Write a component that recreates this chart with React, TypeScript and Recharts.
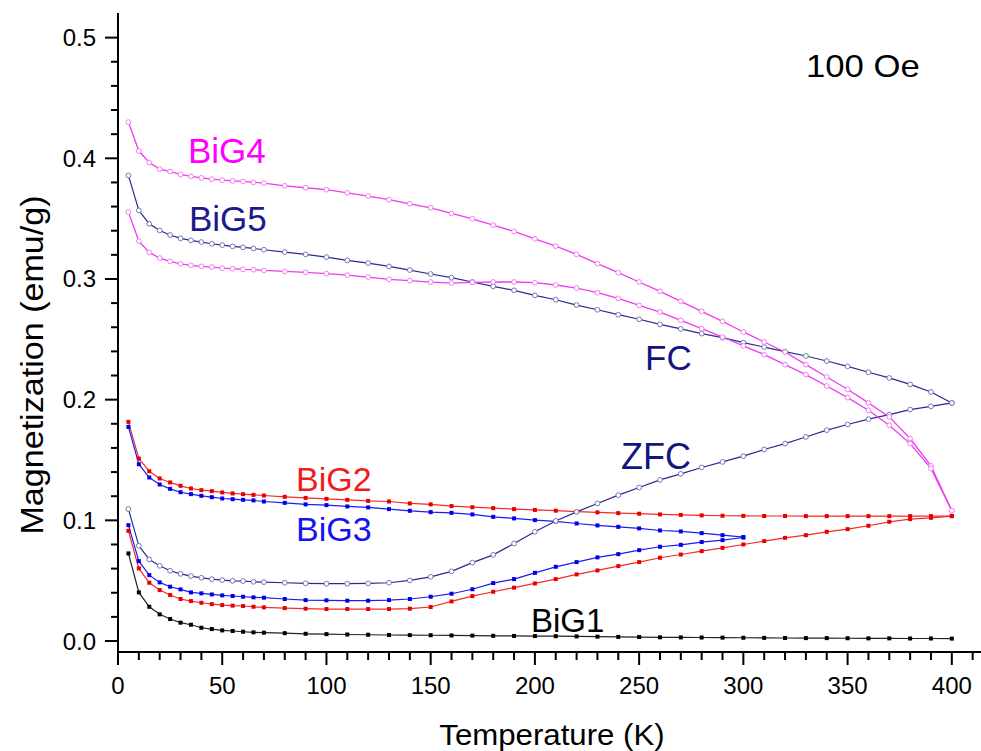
import React from "react";
import { LineChart, Line, XAxis, YAxis, Customized } from "recharts";

// temperature grids (K)
const T_400 = [5, 10, 15, 20, 25, 30, 35, 40, 45, 50, 55, 60, 65, 70, 80, 90, 100, 110, 120, 130, 140, 150, 160, 170, 180, 190, 200, 210, 220, 230, 240, 250, 260, 270, 280, 290, 300, 310, 320, 330, 340, 350, 360, 370, 380, 390, 400];
const T_300 = [5, 10, 15, 20, 25, 30, 35, 40, 45, 50, 55, 60, 65, 70, 80, 90, 100, 110, 120, 130, 140, 150, 160, 170, 180, 190, 200, 210, 220, 230, 240, 250, 260, 270, 280, 290, 300];

// magnetization (emu/g)
const BIG1 = [0.0726, 0.0403, 0.0284, 0.0221, 0.0182, 0.0152, 0.0135, 0.011, 0.0099, 0.0088, 0.0083, 0.0077, 0.0072, 0.0069, 0.0065, 0.006, 0.0057, 0.0054, 0.0052, 0.005, 0.0049, 0.0048, 0.0046, 0.0045, 0.0043, 0.0042, 0.0041, 0.004, 0.0038, 0.0036, 0.0034, 0.0033, 0.0031, 0.003, 0.0029, 0.0028, 0.0027, 0.0026, 0.0025, 0.0024, 0.0024, 0.0023, 0.0022, 0.0022, 0.0021, 0.0021, 0.002];
const BIG2_FC = [0.1816, 0.1512, 0.1407, 0.1347, 0.1314, 0.1286, 0.1264, 0.125, 0.1242, 0.1231, 0.1223, 0.1217, 0.1211, 0.1206, 0.1195, 0.1186, 0.1178, 0.117, 0.1161, 0.1156, 0.114, 0.1132, 0.1118, 0.1109, 0.1101, 0.1093, 0.1086, 0.108, 0.1072, 0.1066, 0.106, 0.1055, 0.1049, 0.1045, 0.1041, 0.1038, 0.1037, 0.1036, 0.1036, 0.1035, 0.1035, 0.1035, 0.1035, 0.1035, 0.1035, 0.1035, 0.1035];
const BIG2_ZFC = [0.0913, 0.0602, 0.0483, 0.0422, 0.0381, 0.0348, 0.0331, 0.0317, 0.0306, 0.0298, 0.0293, 0.029, 0.0284, 0.0279, 0.0273, 0.0268, 0.0265, 0.0265, 0.0265, 0.0265, 0.0268, 0.0282, 0.0328, 0.0372, 0.0408, 0.0442, 0.0477, 0.0513, 0.0552, 0.0585, 0.0621, 0.0654, 0.069, 0.0717, 0.0745, 0.0772, 0.08, 0.0828, 0.0855, 0.0877, 0.0905, 0.0927, 0.0955, 0.0988, 0.101, 0.1021, 0.1035];
const BIG3_FC = [0.1774, 0.1465, 0.1355, 0.1297, 0.1261, 0.1233, 0.1217, 0.1203, 0.1192, 0.1181, 0.1175, 0.117, 0.1165, 0.1156, 0.1145, 0.1132, 0.1126, 0.1115, 0.1107, 0.1093, 0.1079, 0.1068, 0.1062, 0.1049, 0.1029, 0.1016, 0.1002, 0.0991, 0.0974, 0.0958, 0.0946, 0.0933, 0.0916, 0.0908, 0.0894, 0.0877, 0.0861];
const BIG3_ZFC = [0.096, 0.0662, 0.0546, 0.0486, 0.045, 0.0428, 0.0403, 0.0395, 0.0386, 0.0378, 0.0373, 0.0367, 0.0362, 0.0359, 0.0348, 0.0339, 0.0337, 0.0334, 0.0334, 0.0339, 0.0348, 0.0367, 0.0392, 0.0429, 0.048, 0.0513, 0.0565, 0.0615, 0.0654, 0.0693, 0.072, 0.0753, 0.0781, 0.0797, 0.082, 0.0836, 0.0858];
const BIG4_FC = [0.43, 0.406, 0.3965, 0.391, 0.389, 0.3866, 0.385, 0.3838, 0.3827, 0.3819, 0.3813, 0.3808, 0.38, 0.3794, 0.3772, 0.3756, 0.374, 0.3714, 0.3687, 0.3657, 0.3623, 0.359, 0.3543, 0.3499, 0.3446, 0.3394, 0.3333, 0.3272, 0.3204, 0.3127, 0.3052, 0.2975, 0.2897, 0.2815, 0.2732, 0.2649, 0.2561, 0.2478, 0.2395, 0.229, 0.2188, 0.2086, 0.1973, 0.1857, 0.1678, 0.1451, 0.108];
const BIG4_ZFC = [0.3554, 0.3314, 0.322, 0.3173, 0.3146, 0.3126, 0.3113, 0.3104, 0.3099, 0.309, 0.3085, 0.308, 0.3077, 0.3071, 0.3063, 0.3055, 0.3044, 0.3032, 0.3016, 0.2997, 0.2986, 0.2974, 0.2966, 0.2972, 0.2975, 0.2975, 0.2969, 0.295, 0.2925, 0.2886, 0.2839, 0.2781, 0.2726, 0.2657, 0.2588, 0.2519, 0.2445, 0.2373, 0.229, 0.2208, 0.2113, 0.2017, 0.1912, 0.1788, 0.1636, 0.143, 0.108];
const BIG5_FC = [0.3858, 0.3568, 0.3457, 0.3402, 0.3364, 0.3336, 0.332, 0.3306, 0.3292, 0.3281, 0.327, 0.3262, 0.3253, 0.3242, 0.3223, 0.3204, 0.3181, 0.3154, 0.3132, 0.3104, 0.3074, 0.3041, 0.3011, 0.2975, 0.2939, 0.2906, 0.2864, 0.2828, 0.2784, 0.2745, 0.2704, 0.2666, 0.2624, 0.2586, 0.2547, 0.2514, 0.2473, 0.2436, 0.2398, 0.2362, 0.232, 0.2276, 0.2227, 0.218, 0.2127, 0.2064, 0.1973];
const BIG5_ZFC = [0.1093, 0.0789, 0.0676, 0.0623, 0.0582, 0.0557, 0.0538, 0.0524, 0.0513, 0.0505, 0.0499, 0.0497, 0.0491, 0.0488, 0.0483, 0.0478, 0.0475, 0.0475, 0.0478, 0.0483, 0.0502, 0.0532, 0.0577, 0.065, 0.0714, 0.0808, 0.0905, 0.0995, 0.107, 0.114, 0.1209, 0.1272, 0.1335, 0.1385, 0.1438, 0.1484, 0.1532, 0.1587, 0.1636, 0.1691, 0.1747, 0.1794, 0.1838, 0.1876, 0.1918, 0.1945, 0.1973];

// axis ticks
const X_TICKS = [0, 10, 20, 30, 40, 50, 60, 70, 80, 90, 100, 110, 120, 130, 140, 150, 160, 170, 180, 190, 200, 210, 220, 230, 240, 250, 260, 270, 280, 290, 300, 310, 320, 330, 340, 350, 360, 370, 380, 390, 400, 410];
const X_LABELED = [0, 50, 100, 150, 200, 250, 300, 350, 400];
const Y_TICKS = [0, 0.02, 0.04, 0.06, 0.08, 0.1, 0.12, 0.14, 0.16, 0.18, 0.2, 0.22, 0.24, 0.26, 0.28, 0.3, 0.32, 0.34, 0.36, 0.38, 0.4, 0.42, 0.44, 0.46, 0.48, 0.5];
const Y_LABELED = ["0.0", "0.1", "0.2", "0.3", "0.4", "0.5"];

const FONT = "'Liberation Sans', Arial, sans-serif";
const MAGENTA = "#ee3cee";
const NAVY = "#2a2a8e";
const RED = "#f52a2a";
const BLUE = "#1c1cf5";

const pts = (ts: number[], vs: number[]) => vs.map((v, i) => ({ T: ts[i], M: v }));

const circleDot = (color: string) => (p: any) => (
  <circle key={`c${p.index}`} cx={p.cx} cy={p.cy} r={2.4} fill="#fff" stroke={color} strokeWidth={0.9} />
);
const squareDot = (color: string) => (p: any) => (
  <rect key={`s${p.index}`} x={p.cx - 2} y={p.cy - 2} width={4} height={4} fill={color} />
);

function Txt({ x, y, size, sx = 1, anchor = "start", color = "#000", rot = 0, children }: any) {
  return (
    <text
      transform={`translate(${x},${y})${rot ? ` rotate(${rot})` : ""} scale(${sx},1)`}
      textAnchor={anchor}
      fontSize={size}
      fill={color}
      fontFamily={FONT}
    >
      {children}
    </text>
  );
}

function XTick({ x, y, payload }: any) {
  const v = payload.value;
  const major = X_LABELED.includes(v);
  return (
    <g>
      <line x1={x} x2={x} y1={y} y2={y + (major ? 13 : 8)} stroke="#000" strokeWidth={2} />
      {major && <Txt x={x} y={y + 42} size={24} sx={1.0} anchor="middle">{String(v)}</Txt>}
    </g>
  );
}

function YTick({ x, y, payload }: any) {
  const label = payload.value.toFixed(1);
  const major = Math.abs(payload.value * 10 - Math.round(payload.value * 10)) < 1e-6 && Y_LABELED.includes(label);
  return (
    <g>
      <line x1={x} x2={x - (major ? 13 : 7)} y1={y} y2={y} stroke="#000" strokeWidth={2} />
      {major && <Txt x={x - 22} y={y + 8.5} size={24} sx={1.0} anchor="end">{label}</Txt>}
    </g>
  );
}

function Annotations() {
  return (
    <g>
      <Txt x={188} y={163} size={35} color="#ff00ff">BiG4</Txt>
      <Txt x={189} y={231} size={35} color="#1a1a88">BiG5</Txt>
      <Txt x={296} y={491} size={34} color="#f21a1a">BiG2</Txt>
      <Txt x={296} y={541} size={34} color="#1414f0">BiG3</Txt>
      <Txt x={531} y={632} size={33} color="#000">BiG1</Txt>
      <Txt x={645} y={370} size={35} color="#14147e">FC</Txt>
      <Txt x={621} y={469} size={36} color="#14147e">ZFC</Txt>
      <Txt x={806} y={77} size={31} sx={1.12}>100 Oe</Txt>
      <Txt x={552} y={745} size={30} sx={1.04} anchor="middle">Temperature (K)</Txt>
      <Txt x={43} y={365} size={31} sx={1.1} anchor="middle" rot={-90}>Magnetization (emu/g)</Txt>
    </g>
  );
}

export default function App() {
  const axisLine = { stroke: "#000", strokeWidth: 2 };
  return (
    <div style={{ position: "absolute", left: 0, top: 0, background: "#fff" }}>
      <LineChart width={981} height={751} margin={{ top: 13, right: 0, bottom: 0, left: 0 }}>
        <XAxis
          type="number"
          dataKey="T"
          domain={[0, 414]}
          ticks={X_TICKS}
          interval={0}
          height={99}
          tickSize={0}
          tickMargin={0}
          tickLine={false}
          axisLine={axisLine}
          tick={<XTick />}
        />
        <XAxis
          xAxisId="top"
          orientation="top"
          type="number"
          domain={[0, 414]}
          height={0}
          tick={false}
          tickLine={false}
          axisLine={axisLine}
        />
        <YAxis
          type="number"
          domain={[-0.0091, 0.5204]}
          ticks={Y_TICKS}
          interval={0}
          width={118}
          tickSize={0}
          tickMargin={0}
          tickLine={false}
          axisLine={axisLine}
          tick={<YTick />}
        />
        <Line data={pts(T_400, BIG1)} dataKey="M" stroke="#222" strokeWidth={1.2} dot={squareDot("#000")} isAnimationActive={false} />
        <Line data={pts(T_400, BIG2_FC)} dataKey="M" stroke={RED} strokeWidth={1.2} dot={squareDot("#e80000")} isAnimationActive={false} />
        <Line data={pts(T_400, BIG2_ZFC)} dataKey="M" stroke={RED} strokeWidth={1.2} dot={squareDot("#e80000")} isAnimationActive={false} />
        <Line data={pts(T_300, BIG3_FC)} dataKey="M" stroke={BLUE} strokeWidth={1.2} dot={squareDot("#0000e8")} isAnimationActive={false} />
        <Line data={pts(T_300, BIG3_ZFC)} dataKey="M" stroke={BLUE} strokeWidth={1.2} dot={squareDot("#0000e8")} isAnimationActive={false} />
        <Line data={pts(T_400, BIG5_FC)} dataKey="M" stroke={NAVY} strokeWidth={1.2} dot={circleDot("#6a6aaa")} isAnimationActive={false} />
        <Line data={pts(T_400, BIG5_ZFC)} dataKey="M" stroke={NAVY} strokeWidth={1.2} dot={circleDot("#6a6aaa")} isAnimationActive={false} />
        <Line data={pts(T_400, BIG4_FC)} dataKey="M" stroke={MAGENTA} strokeWidth={1.3} dot={circleDot("#f070f0")} isAnimationActive={false} />
        <Line data={pts(T_400, BIG4_ZFC)} dataKey="M" stroke={MAGENTA} strokeWidth={1.3} dot={circleDot("#f070f0")} isAnimationActive={false} />
        <Customized component={Annotations} />
      </LineChart>
    </div>
  );
}
